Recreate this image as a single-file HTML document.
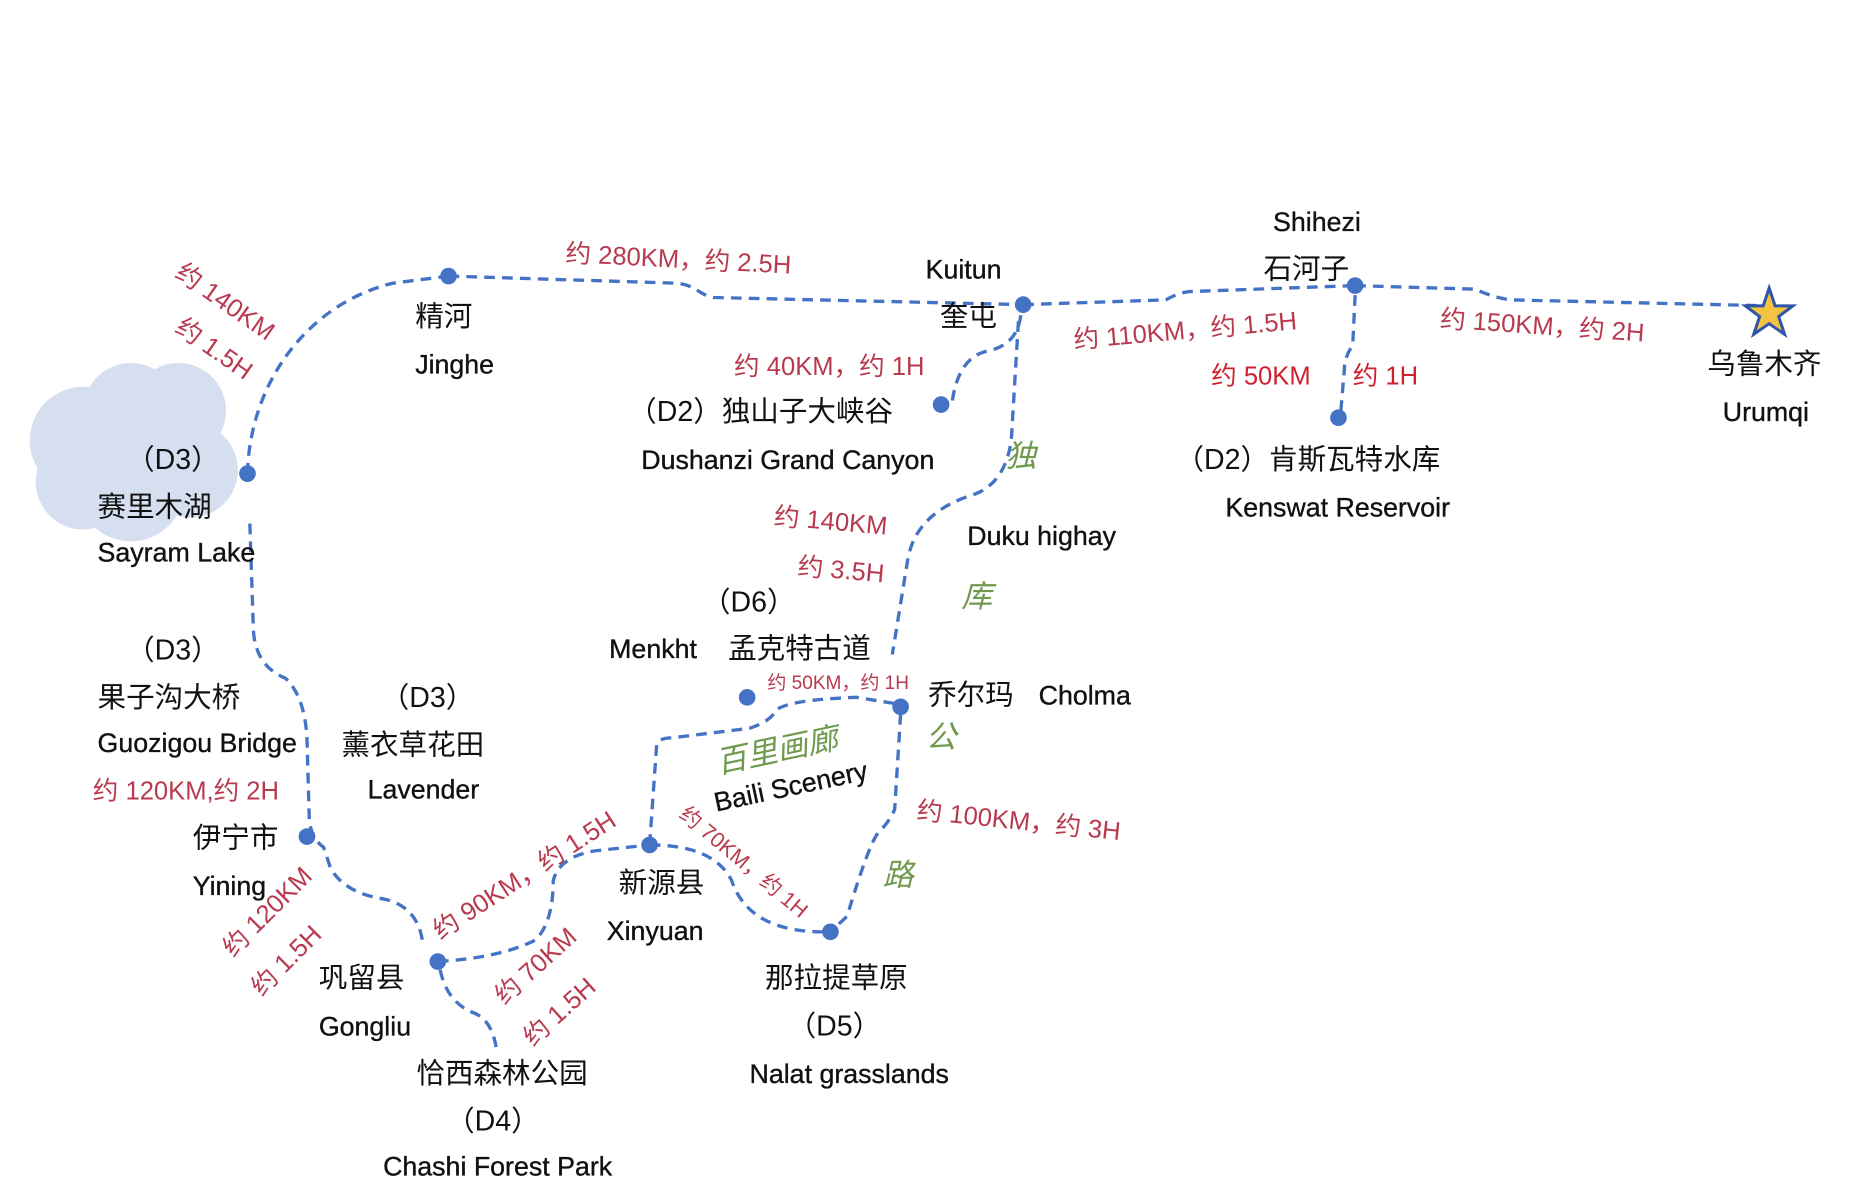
<!DOCTYPE html>
<html><head><meta charset="utf-8"><style>
html,body{margin:0;padding:0;background:#fff;}
svg{display:block;}
text{font-family:"Liberation Sans","Noto Sans CJK SC",sans-serif;}
.b{font-size:22.5px;fill:#111;stroke:#111;stroke-width:0.3;}
.c{font-size:24px;fill:#111;}
.r{font-size:21.5px;fill:#b83a4e;}
.g{font-size:26px;fill:#6f9a4d;font-style:italic;}
.l{fill:none;stroke:#4472c4;stroke-width:2.8;stroke-dasharray:9 6;}
.d{fill:#4472c4;}
</style></head><body>
<svg width="1856" height="1190" viewBox="0 0 1560 1000" preserveAspectRatio="none" xmlns="http://www.w3.org/2000/svg">
<g fill="#d6dff0">
<circle cx="70" cy="370" r="45"/><circle cx="110" cy="345" r="40"/><circle cx="150" cy="345" r="40"/><circle cx="160" cy="395" r="40"/><circle cx="110" cy="410" r="45"/><circle cx="70" cy="405" r="40"/><circle cx="130" cy="375" r="50"/>
</g>
<path class="l" d="M208,398 C210,320 260,255 330,238 L377,232"/>
<path class="l" d="M377,232 L570,238 C585,240 588,248 600,250 L860,256"/>
<path class="l" d="M860,256 L980,252 Q990,246 1000,245 L1139,240"/>
<path class="l" d="M1139,240 L1240,243 Q1255,250 1270,252 L1487,257"/>
<path class="l" d="M858,265 Q855,290 830,295 Q805,300 800,340"/>
<path class="l" d="M856,270 L850,370 Q845,405 820,415 Q770,430 763,470 L750,550"/>
<path class="l" d="M1139,248 L1137,290 Q1130,300 1130,310 L1127,345"/>
<path class="l" d="M210,440 L213,530 Q215,560 240,570 Q256,585 258,620 L260,690 Q262,705 272,712 L278,730 Q290,750 320,755 Q350,760 355,790"/>
<path class="l" d="M368,808 Q420,805 450,790 Q465,775 465,740 Q470,720 500,715 L546,710"/>
<path class="l" d="M370,815 Q375,840 395,850 Q413,855 417,880"/>
<path class="l" d="M546,710 L552,625 Q555,620 565,620 L630,612 Q648,606 652,597 Q662,588 720,586 L757,592"/>
<path class="l" d="M757,600 L752,680 Q748,690 738,700 Q730,710 712,770 L698,783"/>
<path class="l" d="M546,710 Q600,710 615,740 Q630,785 698,783"/>
<g class="d">
<circle cx="377" cy="232" r="7"/><circle cx="860" cy="256" r="7"/><circle cx="1139" cy="240" r="7"/><circle cx="791" cy="340" r="7"/><circle cx="1125" cy="351" r="7"/><circle cx="208" cy="398" r="7"/><circle cx="628" cy="586" r="7"/><circle cx="757" cy="594" r="7"/><circle cx="258" cy="703" r="7"/><circle cx="546" cy="710" r="7"/><circle cx="698" cy="783" r="7"/><circle cx="368" cy="808" r="7"/>
</g>
<polygon points="1487,242 1492,257 1507,257 1495,266 1500,281 1487,272 1474,281 1479,266 1467,257 1482,257" fill="#f5c342" stroke="#2f55a8" stroke-width="2.5"/>

<text class="c" x="349" y="274">精河</text><text class="b" x="349" y="314">Jinghe</text>
<text class="b" x="778" y="234">Kuitun</text><text class="c" x="790" y="274">奎屯</text>
<text class="b" x="1070" y="194">Shihezi</text><text class="c" x="1062" y="234">石河子</text>
<text class="c" x="1435" y="314">乌鲁木齐</text><text class="b" x="1448" y="354">Urumqi</text>
<text class="c" x="528" y="354">（D2）独山子大峡谷</text><text class="b" x="539" y="394">Dushanzi Grand Canyon</text>
<text class="c" x="988" y="394">（D2）肯斯瓦特水库</text><text class="b" x="1030" y="434">Kenswat Reservoir</text>
<text class="b" x="813" y="458">Duku highay</text>
<text class="c" x="106" y="394">（D3）</text><text class="c" x="82" y="434">赛里木湖</text><text class="b" x="82" y="472">Sayram Lake</text>
<text class="c" x="106" y="554">（D3）</text><text class="c" x="82" y="594">果子沟大桥</text><text class="b" x="82" y="632">Guozigou Bridge</text>
<text class="c" x="320" y="594">（D3）</text><text class="c" x="287" y="634">薰衣草花田</text><text class="b" x="309" y="671">Lavender</text>
<text class="c" x="162" y="712">伊宁市</text><text class="b" x="162" y="752">Yining</text>
<text class="c" x="268" y="830">巩留县</text><text class="b" x="268" y="870">Gongliu</text>
<text class="c" x="350" y="910">恰西森林公园</text><text class="c" x="375" y="950">（D4）</text><text class="b" x="322" y="988">Chashi Forest Park</text>
<text class="c" x="520" y="750">新源县</text><text class="b" x="510" y="790">Xinyuan</text>
<text class="c" x="643" y="830">那拉提草原</text><text class="c" x="662" y="870">（D5）</text><text class="b" x="630" y="910">Nalat grasslands</text>
<text class="c" x="590" y="514">（D6）</text><text class="b" x="512" y="553">Menkht</text><text class="c" x="612" y="553">孟克特古道</text>
<text class="c" x="780" y="592">乔尔玛</text><text class="b" x="873" y="592">Cholma</text>
<text class="b" transform="translate(602,682) rotate(-12)">Baili Scenery</text>
<text class="g" transform="translate(604,650) rotate(-12)">百里画廊</text>
<text class="g" x="845" y="392">独</text><text class="g" x="808" y="510">库</text><text class="g" x="778" y="628">公</text><text class="g" x="742" y="744">路</text>

<text class="r" transform="translate(475,220) rotate(3)">约 280KM，约 2.5H</text>
<text class="r" transform="translate(146,232) rotate(35)">约 140KM</text>
<text class="r" transform="translate(146,278) rotate(35)">约 1.5H</text>
<text class="r" x="617" y="315">约 40KM，约 1H</text>
<text class="r" transform="translate(903,293) rotate(-5)">约 110KM，约 1.5H</text>
<text class="r" transform="translate(1210,275) rotate(4)">约 150KM，约 2H</text>
<text class="r" x="1018" y="323" style="fill:#d01f2e">约 50KM</text>
<text class="r" x="1137" y="323" style="fill:#d01f2e">约 1H</text>
<text class="r" transform="translate(650,441) rotate(5)">约 140KM</text>
<text class="r" transform="translate(670,483) rotate(5)">约 3.5H</text>
<text class="r" x="645" y="579" style="font-size:16px">约 50KM，约 1H</text>
<text class="r" x="78" y="672">约 120KM,约 2H</text>
<text class="r" transform="translate(196,805) rotate(-45)">约 120KM</text>
<text class="r" transform="translate(220,838) rotate(-45)">约 1.5H</text>
<text class="r" transform="translate(370,790) rotate(-33)">约 90KM，约 1.5H</text>
<text class="r" transform="translate(424,845) rotate(-42)">约 70KM</text>
<text class="r" transform="translate(448,880) rotate(-42)">约 1.5H</text>
<text class="r" transform="translate(570,686) rotate(40)" style="font-size:18px">约 70KM，约 1H</text>
<text class="r" transform="translate(770,688) rotate(6)">约 100KM，约 3H</text>
</svg>
</body></html>
